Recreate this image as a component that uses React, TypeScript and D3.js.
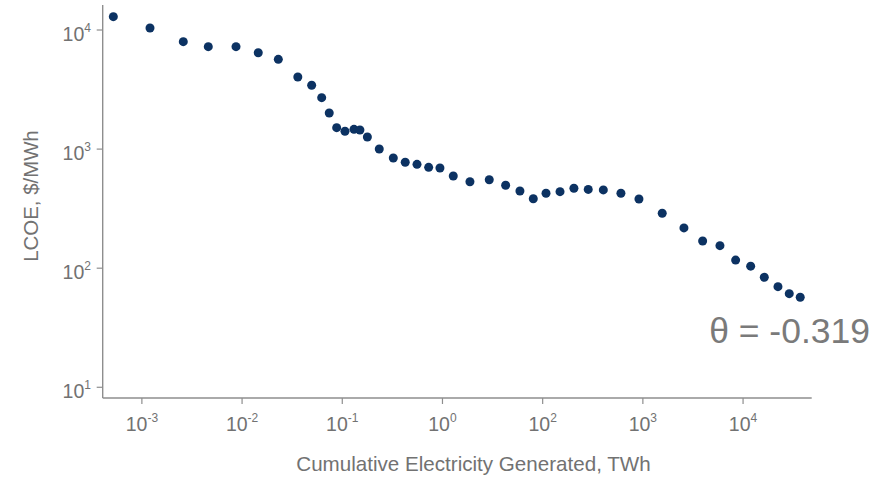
import React from "react";
import * as d3 from "d3";

// Cumulative electricity generated (TWh) and LCOE ($/MWh)
const cumulativeTWh = [
  5.19e-4, 1.205e-3, 2.59e-3, 4.6e-3, 8.7e-3, 1.45e-2, 2.3e-2, 3.6e-2, 4.95e-2, 6.23e-2,
  7.41e-2, 8.79e-2, 0.1064, 0.1309, 0.15, 0.178, 0.234, 0.323, 0.425, 0.557,
  0.728, 0.944, 1.282, 1.88, 2.93, 4.27, 5.93, 8.06, 10.8, 14.9,
  20.5, 28.5, 40.3, 60.4, 91.4, 156, 257, 395, 588, 843,
  1191, 1629, 2230, 2890, 3720,
];
const lcoe = [
  12940, 10400, 7980, 7250, 7250, 6440, 5670, 4030, 3433, 2703,
  2010, 1513, 1411, 1466, 1446, 1264, 1002, 842, 776, 745,
  703, 694, 594, 532, 553, 497, 445, 383, 426, 439,
  469, 459, 454, 426, 381, 289, 218, 169, 154.5, 117,
  104, 83.9, 70.0, 61.1, 57.0,
];

const xTickValues = [1e-3, 1e-2, 1e-1, 1, 10, 100, 1000];
const xTickExponents = ["-3", "-2", "-1", "0", "2", "3", "4"];
const yTickValues = [10, 100, 1000, 10000];
const yTickExponents = ["1", "2", "3", "4"];

const xTitle = "Cumulative Electricity Generated, TWh";
const yTitle = "LCOE, $/MWh";
const thetaLabel = "θ = -0.319";

const W = 881;
const H = 481;
const FONT = "'Liberation Sans', Arial, Helvetica, sans-serif";
const AXIS = "#8e8e8e";
const TEXT = "#727272";
const DOT = "#0c3262";

export default function App() {
  const left = 102.7;
  const right = 811.7;
  const top = 5;
  const bottom = 398;

  const x = d3
    .scaleLog()
    .domain([Math.pow(10, -3.391), Math.pow(10, 3.685)])
    .range([left, right]);
  const y = d3
    .scaleLog()
    .domain([Math.pow(10, 0.91), Math.pow(10, 4.21)])
    .range([bottom, top]);

  const pts = cumulativeTWh.map((v, i) => ({ x: v, y: lcoe[i] }));

  return (
    <svg
      width={W}
      height={H}
      viewBox={`0 0 ${W} ${H}`}
      style={{ position: "absolute", left: 0, top: 0, background: "#fff" }}
      fontFamily={FONT}
    >
      {/* axes */}
      <line x1={left} y1={top} x2={left} y2={bottom} stroke={AXIS} strokeWidth={1.4} />
      <line x1={left} y1={bottom} x2={right} y2={bottom} stroke={AXIS} strokeWidth={1.4} />

      {/* x ticks */}
      {xTickValues.map((v, i) => (
        <g key={"xt" + i}>
          <line x1={x(v)} x2={x(v)} y1={bottom} y2={bottom + 6} stroke={AXIS} strokeWidth={1.2} />
          <text x={x(v)} y={431} textAnchor="middle" fontSize={19.5} fill={TEXT}>
            <tspan>10</tspan>
            <tspan dy={-9} fontSize={12}>
              {xTickExponents[i]}
            </tspan>
          </text>
        </g>
      ))}

      {/* y ticks */}
      {yTickValues.map((v, i) => (
        <g key={"yt" + i}>
          <line x1={left - 6} x2={left} y1={y(v)} y2={y(v)} stroke={AXIS} strokeWidth={1.2} />
          <text x={91} y={y(v) + 10.5} textAnchor="end" fontSize={19.5} fill={TEXT}>
            <tspan>10</tspan>
            <tspan dy={-9} fontSize={12}>
              {yTickExponents[i]}
            </tspan>
          </text>
        </g>
      ))}

      {/* points */}
      {pts.map((p, i) => (
        <circle key={"p" + i} cx={x(p.x)} cy={y(p.y)} r={4.5} fill={DOT} />
      ))}

      {/* titles */}
      <text x={473.5} y={471} textAnchor="middle" fontSize={20.6} fill={TEXT}>
        {xTitle}
      </text>
      <text
        transform={`translate(38,196) rotate(-90)`}
        textAnchor="middle"
        fontSize={20.4}
        fill={TEXT}
      >
        {yTitle}
      </text>

      <text x={870} y={343} textAnchor="end" fontSize={35.5} fill="#7a7a7a">
        {thetaLabel}
      </text>
    </svg>
  );
}
